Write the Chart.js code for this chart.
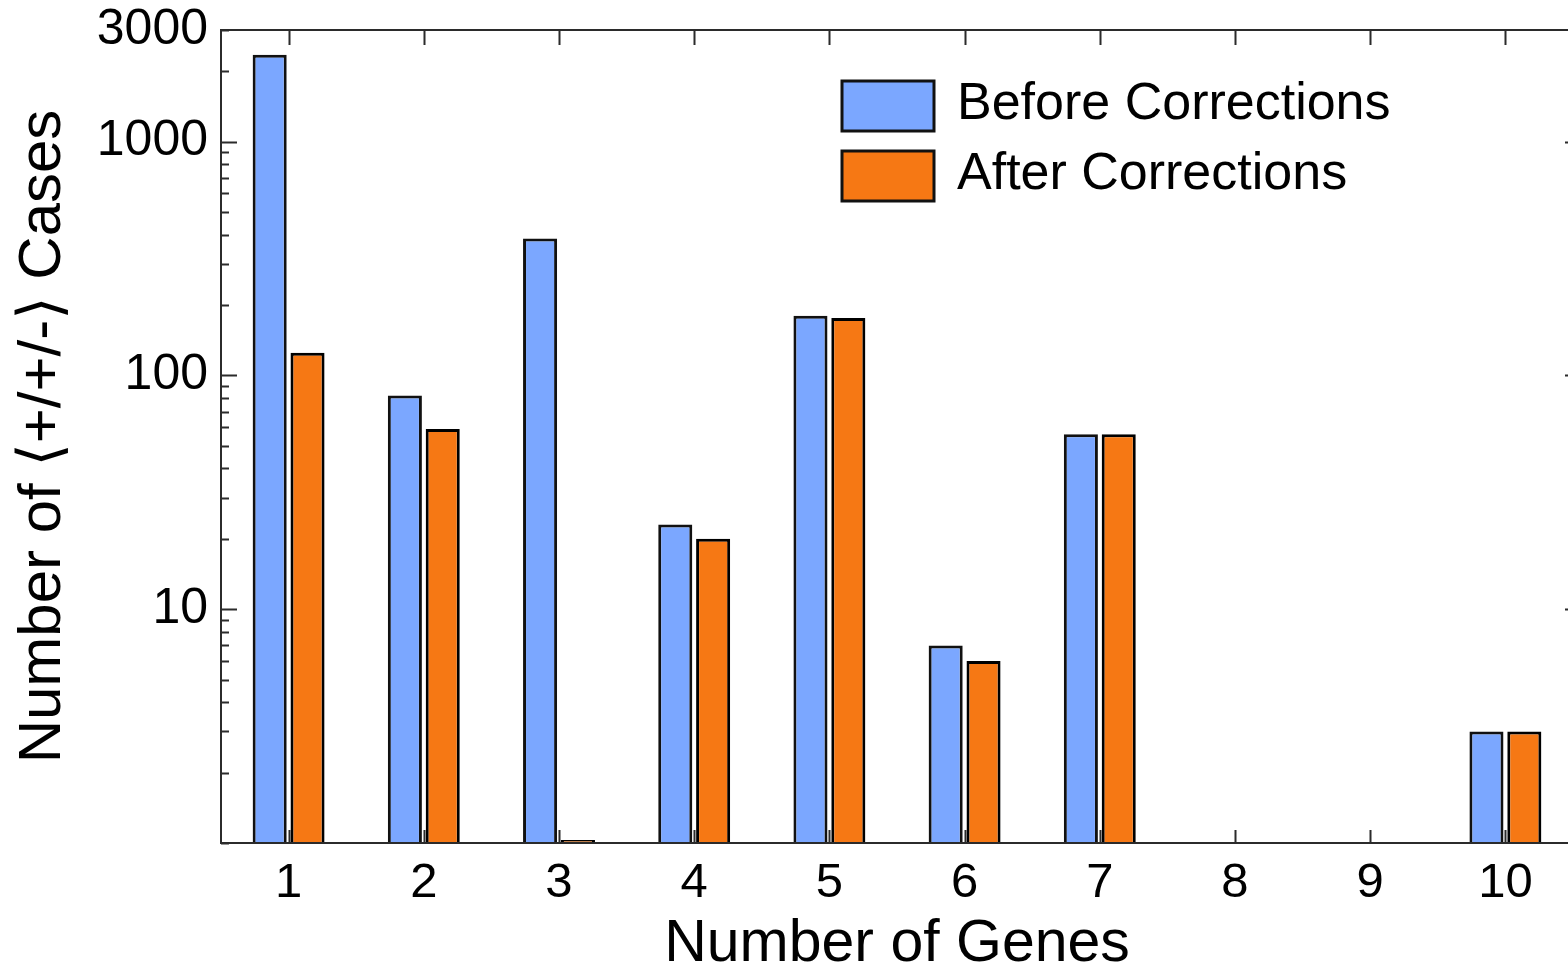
<!DOCTYPE html>
<html>
<head>
<meta charset="utf-8">
<script src="https://cdn.jsdelivr.net/npm/chart.js@4.4.1/dist/chart.umd.min.js"></script>
<style>
  html, body { margin: 0; padding: 0; background: #fff; overflow: hidden; }
  canvas { display: block; }
</style>
</head>
<body>
<canvas id="geneChart" width="1580" height="970"></canvas>
<script>
const geneCounts = ['1', '2', '3', '4', '5', '6', '7', '8', '9', '10'];
const beforeCases = [2350, 82, 385, 23, 180, 7, 56, null, null, 3];
const afterCases = [125, 59, 1.03, 20, 176, 6, 56, null, null, 3];
const yMajorTicks = [10, 100, 1000, 3000];

const FONT = "'Liberation Sans', Arial, 'DejaVu Sans', sans-serif";
const AXIS_COLOR = '#2b2b2b';

// axis frame with ticks pointing inward, like the original plot
const innerAxes = {
    id: 'innerAxes',
    afterDatasetsDraw(chart) {
        const ctx = chart.ctx;
        const area = chart.chartArea;
        const x = chart.scales.x;
        const y = chart.scales.y;

        ctx.save();
        ctx.strokeStyle = AXIS_COLOR;
        ctx.lineWidth = 2;
        ctx.strokeRect(area.left, area.top, area.right - area.left, area.bottom - area.top);

        ctx.beginPath();
        x.ticks.forEach((t, i) => {
            const px = Math.round(x.getPixelForTick(i)) + 0.5;
            ctx.moveTo(px, area.bottom);
            ctx.lineTo(px, area.bottom - 13);
            ctx.moveTo(px, area.top);
            ctx.lineTo(px, area.top + 15);
        });
        y.ticks.forEach(t => {
            const py = Math.round(y.getPixelForValue(t.value)) + 0.5;
            const major = yMajorTicks.includes(t.value) && t.value !== 3000;
            ctx.moveTo(area.left, py);
            ctx.lineTo(area.left + (major ? 16 : 8), py);
            if (major) {
                ctx.moveTo(area.right, py);
                ctx.lineTo(area.right - 8, py);
            }
        });
        ctx.stroke();
        ctx.restore();
    }
};

// legend drawn inside the plot area
const insideLegend = {
    id: 'insideLegend',
    afterDraw(chart) {
        const ctx = chart.ctx;
        const left = chart.chartArea.left + 621;
        let top = chart.chartArea.top + 51;
        ctx.save();
        ctx.font = '52px ' + FONT;
        ctx.textBaseline = 'middle';
        chart.data.datasets.forEach(ds => {
            ctx.fillStyle = ds.backgroundColor;
            ctx.fillRect(left, top, 92, 50);
            ctx.lineWidth = 3;
            ctx.strokeStyle = '#111';
            ctx.strokeRect(left, top, 92, 50);
            ctx.fillStyle = '#000';
            ctx.fillText(ds.label, left + 115, top + 24);
            top += 70;
        });
        ctx.restore();
    }
};

const ctx = document.getElementById('geneChart').getContext('2d');
new Chart(ctx, {
    type: 'bar',
    data: {
        labels: geneCounts,
        datasets: [
            {
                label: 'Before Corrections',
                data: beforeCases,
                backgroundColor: '#7ba7ff',
                borderColor: '#111',
                borderWidth: 3,
                categoryPercentage: 0.56,
                barPercentage: 0.9
            },
            {
                label: 'After Corrections',
                data: afterCases,
                backgroundColor: '#f67814',
                borderColor: '#000',
                borderWidth: 3,
                categoryPercentage: 0.56,
                barPercentage: 0.9
            }
        ]
    },
    options: {
        responsive: false,
        animation: false,
        layout: {
            padding: { top: 18, right: 7, left: 0, bottom: 0 }
        },
        plugins: {
            legend: { display: false },
            tooltip: { enabled: false }
        },
        scales: {
            x: {
                grid: { display: false },
                border: { display: false },
                ticks: {
                    color: '#000',
                    padding: 3,
                    font: { family: FONT, size: 49 }
                },
                title: {
                    display: true,
                    text: 'Number of Genes',
                    color: '#000',
                    padding: { top: 0, bottom: 0 },
                    font: { family: FONT, size: 59, lineHeight: 0.85 }
                },
                afterFit(scale) {
                    scale.height = 127;
                }
            },
            y: {
                type: 'logarithmic',
                min: 1,
                max: 3000,
                grid: { display: false },
                border: { display: false },
                afterBuildTicks(scale) {
                    const ticks = [];
                    [1, 10, 100, 1000].forEach(d => {
                        for (let m = 1; m <= 9; m++) {
                            const v = d * m;
                            if (v <= 3000) ticks.push({ value: v });
                        }
                    });
                    scale.ticks = ticks;
                },
                ticks: {
                    color: '#000',
                    padding: 5,
                    autoSkip: false,
                    font: { family: FONT, size: 50, lineHeight: 1.0 },
                    callback: function (value) {
                        return yMajorTicks.includes(value) ? String(value) : '';
                    }
                },
                title: {
                    display: true,
                    text: 'Number of \u27E8+/+/-\u27E9 Cases',
                    color: '#000',
                    padding: { top: 7, bottom: 0 },
                    font: { family: FONT, size: 60 }
                },
                afterFit(scale) {
                    scale.width = 221;
                }
            }
        }
    },
    plugins: [innerAxes, insideLegend]
});
</script>
</body>
</html>
